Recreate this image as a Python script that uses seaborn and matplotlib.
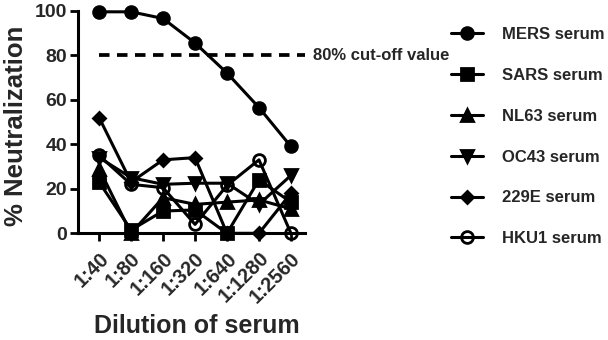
import matplotlib
matplotlib.use("Agg")
import matplotlib.pyplot as plt
import seaborn as sns
import pandas as pd

dilutions = ["1:40", "1:80", "1:160", "1:320", "1:640", "1:1280", "1:2560"]
mers = [99.5, 99.5, 96.5, 85.5, 72, 56.5, 39]
sars = [23, 1.5, 10, 10.5, 0, 24, 14]
nl63 = [29, 0, 16, 13, 14, 15, 11]
oc43 = [34, 25, 22, 22.5, 22.5, 13, 26]
e229 = [52, 23, 33, 34, 0, 0, 18]
hku1 = [35, 22, 20.5, 4, 21.5, 33, 0]
series_names = ["MERS serum", "SARS serum", "NL63 serum", "OC43 serum", "229E serum", "HKU1 serum"]
series_values = [mers, sars, nl63, oc43, e229, hku1]
cutoff = 80
cutoff_label = "80% cut-off value"
yticks = [0, 20, 40, 60, 80, 100]

markers = ["o", "s", "^", "v", "D", "o"]
msizes = [8.5, 8, 8.5, 8.5, 6.5, 8.5]
faces = ["black", "black", "black", "black", "black", "none"]

sns.set_style("ticks")
plt.rcParams["font.family"] = ["Liberation Sans", "DejaVu Sans"]
plt.rcParams["font.weight"] = "bold"

fig = plt.figure(figsize=(6.08, 3.40), dpi=100)
ax = fig.add_axes([78 / 608, 1 - 233.3 / 340, (305 - 78) / 608, (233.3 - 10.7) / 340])

rows = []
for name, vals in zip(series_names, series_values):
    for d, v in zip(dilutions, vals):
        rows.append({"dilution": d, "value": v, "serum": name})
df = pd.DataFrame(rows)

for name, m, ms, fc in zip(series_names, markers, msizes, faces):
    sub = df[df["serum"] == name]
    sns.lineplot(data=sub, x="dilution", y="value", ax=ax, color="black",
                 marker=m, markersize=ms, markerfacecolor=fc,
                 markeredgecolor="black", markeredgewidth=2.0,
                 linewidth=2.2, label=name, sort=False, clip_on=False, zorder=3)

ax.plot([0, 6.45], [cutoff, cutoff], color="black", linestyle=(0, (2.8, 2.0)),
        linewidth=2.7, clip_on=False, zorder=2)
ax.text(6.68, cutoff, cutoff_label, fontsize=12, fontweight="bold",
        va="center", ha="left", transform=ax.transData, clip_on=False)

ax.set_xlim(-0.66, 6.44)
ax.set_ylim(0, 100)
ax.set_yticks(yticks)
ax.set_xticks(range(len(dilutions)))
ax.set_xticklabels(dilutions, rotation=45, ha="right", rotation_mode="anchor",
                   fontsize=14.5, fontweight="bold")
ax.set_yticklabels([str(t) for t in yticks], fontsize=14, fontweight="bold")
ax.tick_params(axis="both", direction="out", length=6, width=2, color="black", pad=2)
ax.tick_params(axis="x", pad=5)
for s in ["top", "right"]:
    ax.spines[s].set_visible(False)
for s in ["left", "bottom"]:
    ax.spines[s].set_linewidth(2.2)
    ax.spines[s].set_color("black")
ax.set_xlabel("")
ax.set_ylabel("")

fig.text(16 / 608, 1 - 126 / 340, "% Neutralization", rotation=90, fontsize=18.5,
         fontweight="bold", ha="center", va="center")
fig.text(197 / 608, 1 - 326 / 340, "Dilution of serum", fontsize=18,
         fontweight="bold", ha="center", va="center")

leg = ax.legend(loc="upper left", bbox_to_anchor=(451 / 608, 1 - 27 / 340),
                bbox_transform=fig.transFigure, frameon=False, fontsize=12,
                handlelength=1.9, handletextpad=1.15, labelspacing=1.55,
                borderpad=0, borderaxespad=0)
for t in leg.get_texts():
    t.set_fontweight("bold")

fig.savefig("out.png", dpi=100)
